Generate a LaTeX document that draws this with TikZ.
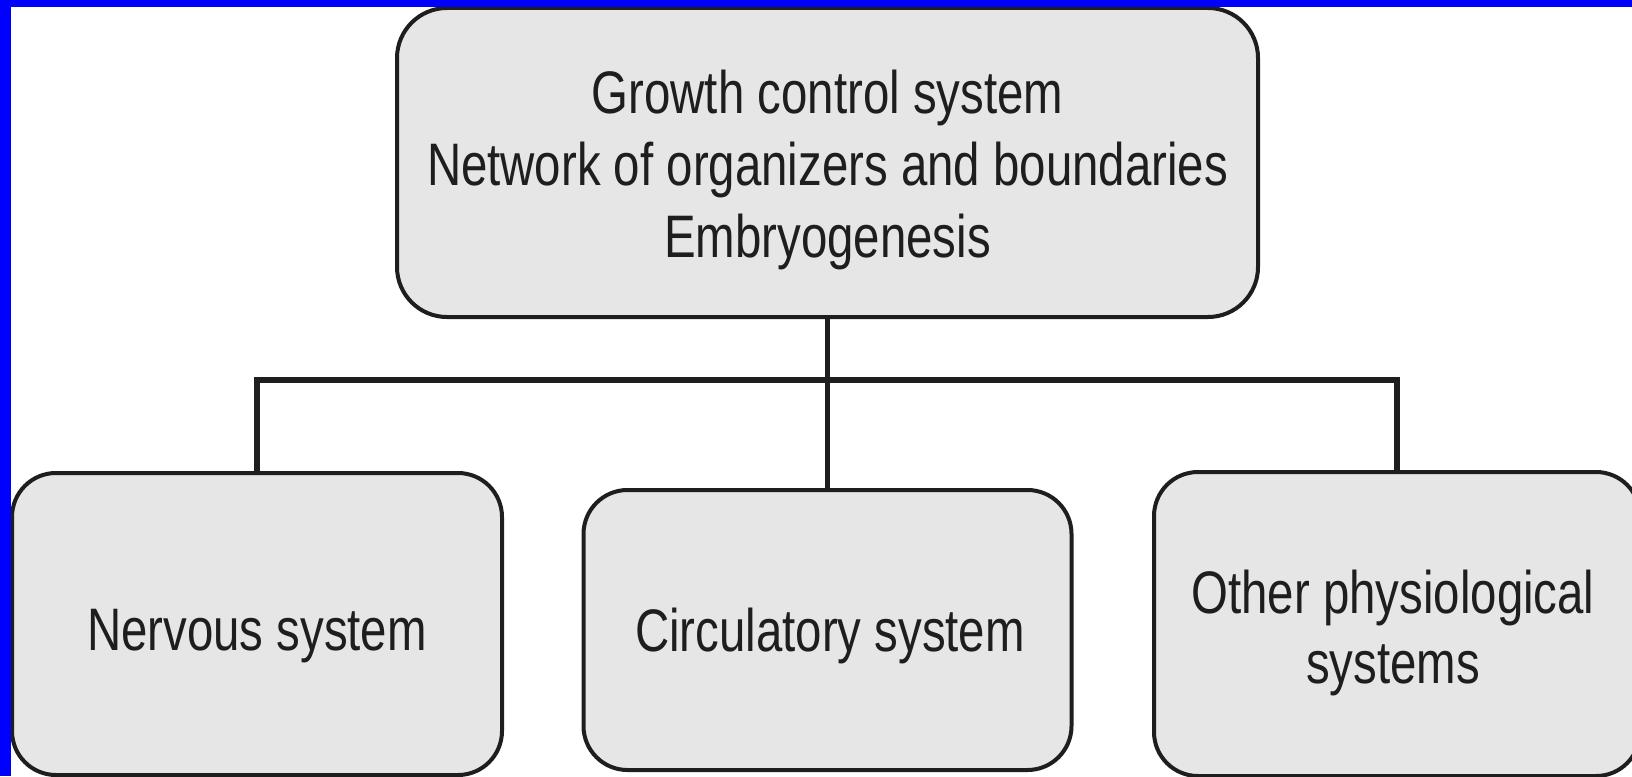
\documentclass[tikz,border=0pt]{standalone}
\usepackage{fontspec}
\setmainfont{Liberation Sans}[FakeStretch=0.79]
\definecolor{boxfill}{HTML}{E6E6E6}
\definecolor{ink}{HTML}{1E1E1E}
\definecolor{frameblue}{HTML}{0000FF}
\begin{document}
\begin{tikzpicture}[x=1pt,y=-1pt,
  box/.style={draw=ink, fill=boxfill, line width=4pt, rounded corners=#1,
    inner sep=0pt, rectangle},
  box/.default=44pt,
  txt/.style={anchor=base, inner sep=0pt, text=ink,
    font=\fontsize{60}{72}\selectfont},
  link/.style={draw=ink, line width=5.5pt}]
\useasboundingbox (0,0) rectangle (1632,776);
\fill[white] (0,0) rectangle (1632,776);

% boxes
\node[box=50pt, minimum width=861pt, minimum height=309pt] (top) at (827.5,162.5) {};
\node[box, minimum width=490pt, minimum height=302pt] (nerv) at (257,624) {};
\node[box, minimum width=488pt, minimum height=280pt] (circ) at (827.5,630) {};
\node[box, minimum width=486pt, minimum height=304pt] (other) at (1397,624) {};

% connectors
\coordinate (bar) at (827.5,380);
\draw[link] (top.south) -- (circ.north);
\draw[link] (nerv.north) |- (bar) -| (other.north);

% texts
\node[txt] (t1) at (827.5,113) {Growth control system};
\node[txt] (t2) at (827.5,185) {Network of organizers and boundaries};
\node[txt] (t3) at (827.5,257) {Embryogenesis};
\node[txt] (tn) at (257,650) {Nervous system};
\node[txt] (tc) at (830,651) {Circulatory system};
\node[txt] (to1) at (1393,613) {Other physiological};
\node[txt] (to2) at (1393,683) {systems};

% blue frame
\fill[frameblue] (0,0) rectangle (1632,7);
\fill[frameblue] (0,0) rectangle (11,776);
\end{tikzpicture}
\end{document}
